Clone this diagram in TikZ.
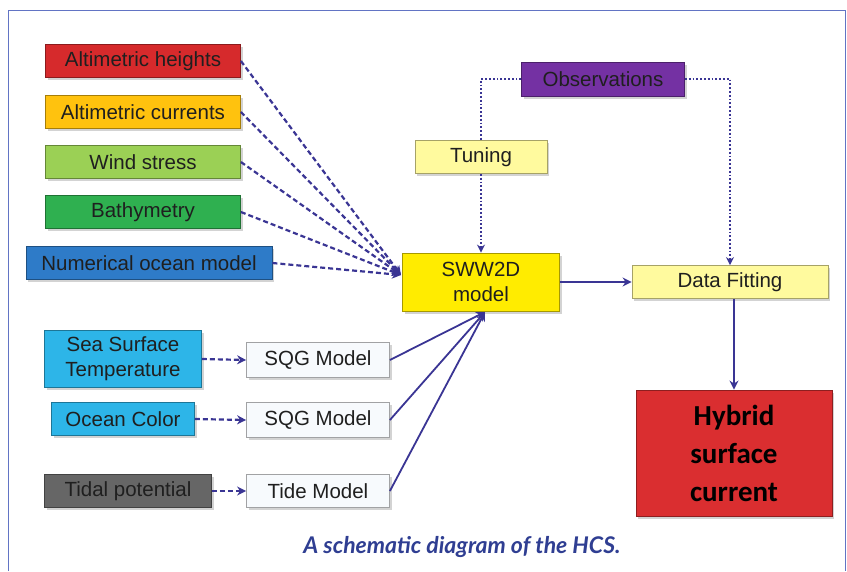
\documentclass[tikz,border=0pt]{standalone}
\usepackage{fontspec}
\setmainfont{Liberation Sans}
\newfontfamily\hybridfont{Carlito}
\newfontfamily\captionfont{Lato}
\usetikzlibrary{arrows.meta,shadows}

\definecolor{framecol}{HTML}{6274C4}
\definecolor{linkcol}{HTML}{3A3594}
\definecolor{heightcol}{HTML}{D62A2C}
\definecolor{currentcol}{HTML}{FFC20E}
\definecolor{windcol}{HTML}{9BD055}
\definecolor{bathcol}{HTML}{2FB050}
\definecolor{numcol}{HTML}{2E7BC8}
\definecolor{sstcol}{HTML}{2DB5E8}
\definecolor{tidalcol}{HTML}{666666}
\definecolor{modelcol}{HTML}{F7FAFD}
\definecolor{swwcol}{HTML}{FFEC00}
\definecolor{palecol}{HTML}{FFFA9E}
\definecolor{obscol}{HTML}{7431A3}
\definecolor{hybridcol}{HTML}{DA2E30}
\definecolor{capcol}{HTML}{2F3E92}

\tikzset{
  srcbox/.style={draw=#1!65!black, fill=#1, line width=0.8pt, inner sep=0pt,
    minimum height=33pt, align=center, text=black!88,
    font=\fontsize{20.5}{25}\selectfont,
    drop shadow={opacity=0.35, shadow xshift=2pt, shadow yshift=-2.5pt}},
  feed/.style={linkcol, line width=2.2pt, dash pattern=on 5pt off 3pt,
    -{Stealth[length=9pt,width=9pt]}},
  solidlink/.style={linkcol, line width=1.8pt, -{Stealth[length=9pt,width=9pt]}},
  obsline/.style={linkcol, line width=1.8pt, dotted},
}

\begin{document}
\begin{tikzpicture}[x=1pt,y=-1pt]
    \useasboundingbox (0,0) rectangle (847,571);
    % frame
    \draw[framecol, line width=1pt] (8,571) -- (8,10) -- (845,10) -- (845,571);

    % inputs
    \node[srcbox=heightcol, minimum width=195pt] (heights) at (143,61) {Altimetric heights};
    \node[srcbox=currentcol, minimum width=195pt] (currents) at (143,112) {Altimetric currents};
    \node[srcbox=windcol, minimum width=195pt] (wind) at (143,162) {Wind stress};
    \node[srcbox=bathcol, minimum width=195pt] (bathy) at (143,212) {Bathymetry};
    \node[srcbox=numcol, minimum width=246pt] (numerical) at (149,263) {Numerical ocean model};

    \node[srcbox=sstcol, minimum width=157pt, minimum height=57pt] (sst) at (123,359) {Sea Surface\\Temperature};
    \node[srcbox=sstcol, minimum width=143pt] (color) at (123,419) {Ocean Color};
    \node[srcbox=tidalcol, minimum width=167pt] (tidal) at (128,491) {Tidal potential};

    \node[srcbox=modelcol, minimum width=143pt, minimum height=35pt] (sqga) at (318,360) {SQG Model};
    \node[srcbox=modelcol, minimum width=143pt, minimum height=35pt] (sqgb) at (318,420) {SQG Model};
    \node[srcbox=modelcol, minimum width=143pt] (tide) at (318,491) {Tide Model};

    % model chain
    \node[srcbox=swwcol, minimum width=157pt, minimum height=58pt] (sww) at (481,282) {SWW2D\\model};
    \node[srcbox=palecol, minimum width=132pt] (tuning) at (481,157) {Tuning};
    \node[srcbox=obscol, minimum width=163pt, minimum height=34pt] (obs) at (603,79) {Observations};
    \node[srcbox=palecol, minimum width=196pt] (fit) at (730,282) {Data Fitting};
    \node[srcbox=hybridcol, minimum width=196pt, minimum height=126pt,
      font=\hybridfont\bfseries\fontsize{29}{38}\selectfont, text=black] (hybrid) at (734,453) {Hybrid\\surface\\current};

    \coordinate (hub) at (401,275);
    \coordinate (sink) at (485,312);

    \foreach \src in {heights,currents,wind,bathy,numerical}{
        \draw[feed] (\src.east) -- (hub);
    }
    \draw[feed] (sst.east) -- (sqga.west);
    \draw[feed] (color.east) -- (sqgb.west);
    \draw[feed] (tidal.east) -- (tide.west);
    \foreach \src in {sqga,sqgb,tide}{
        \draw[solidlink] (\src.east) -- (sink);
    }

    \draw[obsline] (obs.west) -| (tuning.north);
    \draw[obsline, -{Stealth[length=8pt,width=8pt]}] (tuning.south) -- (sww.north);
    \draw[obsline, -{Stealth[length=8pt,width=8pt]}] (obs.east) -| (fit.north);
    \draw[solidlink] (sww.east) -- (fit.west);
    \draw[solidlink] (hybrid.north |- fit.south) -- (hybrid.north);

    \node[font=\captionfont\bfseries\itshape\fontsize{23}{26}\selectfont, text=capcol] (caption) at (462,547) {A schematic diagram of the HCS.};
\end{tikzpicture}
\end{document}
